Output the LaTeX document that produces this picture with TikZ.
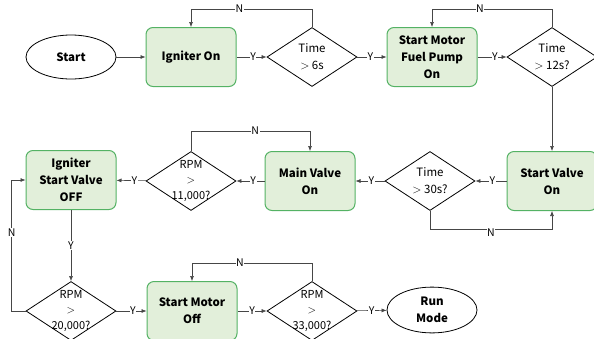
\documentclass[tikz,border=0pt]{standalone}
\usepackage{fontspec}
\setmainfont{Noto Sans CJK KR}
\usetikzlibrary{shapes.geometric,arrows.meta}
\definecolor{boxfill}{RGB}{226,239,218}
\definecolor{boxline}{RGB}{84,178,100}
\definecolor{wire}{RGB}{70,70,70}

\begin{document}
\begin{tikzpicture}[x=1pt,y=-1pt,
    every node/.style={font=\fontsize{11.5}{17}\selectfont},
    stepbox/.style={draw=boxline,fill=boxfill,line width=1pt,rounded corners=7pt,
      minimum width=90pt,minimum height=59pt,align=center,font=\fontsize{11.5}{17}\selectfont\bfseries},
    term/.style={draw,ellipse,line width=0.8pt,minimum width=90pt,minimum height=44pt,
      align=center,font=\fontsize{11.5}{17}\selectfont\bfseries},
    test/.style={draw,diamond,line width=0.8pt,minimum width=90pt,minimum height=59pt,
      aspect=1.5,inner sep=0pt,align=center},
    rpm/.style={test,inner sep=-6pt,font=\fontsize{11}{15.5}\selectfont},
    arr/.style={draw=wire,-{Latex[length=5pt,width=4pt]},line width=0.6pt},
    yn/.style={fill=white,inner sep=0.5pt,font=\fontsize{10.5}{12}\selectfont}]
  \useasboundingbox (0,0) rectangle (594,338);

  % row 1
  \node[term] (start) at (71,57) {Start};
  \node[stepbox] (ign) at (191,57) {Igniter On};
  \node[test] (t6) at (312,57) {Time\\ $>$ 6s};
  \node[stepbox] (fuel) at (432,57) {Start Motor\\Fuel Pump\\On};
  \node[test] (t12) at (552,57) {Time\\ $>$ 12s?};

  % row 2
  \node[stepbox] (sv) at (552,181) {Start Valve\\On};
  \node[test] (t30) at (430,181) {Time\\ $>$ 30s?};
  \node[stepbox] (mv) at (310,181) {Main Valve\\On};
  \node[rpm] (r11) at (191,181) {RPM\\$>$\\11,000?};
  \node[stepbox] (isv) at (71,180) {Igniter\\Start Valve\\OFF};

  % row 3
  \node[rpm] (r20) at (71,311) {RPM\\$>$\\20,000?};
  \node[stepbox] (smo) at (192,311) {Start Motor\\Off};
  \node[rpm] (r33) at (312,311) {RPM\\$>$\\33,000?};
  \node[term] (run) at (432,310) {Run\\Mode};

  % yes paths
  \draw[arr] (start) -- (ign);
  \draw[arr] (ign) -- node[yn,pos=0.55] {Y} (t6);
  \draw[arr] (t6) -- node[yn,pos=0.45] {Y} (fuel);
  \draw[arr] (fuel) -- node[yn,pos=0.6] {Y} (t12);
  \draw[arr] (t12) -- (sv);
  \draw[arr] (sv) -- node[yn,pos=0.45] {Y} (t30);
  \draw[arr] (t30) -- node[yn,pos=0.45] {Y} (mv);
  \draw[arr] (mv) -- node[yn,pos=0.4] {Y} (r11);
  \draw[arr] (r11) -- node[yn,pos=0.4] {Y} (isv);
  \draw[arr] (isv) -- node[yn,pos=0.5] {Y} (r20);
  \draw[arr] (r20) -- node[yn,pos=0.55] {Y} (smo);
  \draw[arr] (smo) -- node[yn,pos=0.5] {Y} (r33);
  \draw[arr] (r33) -- node[yn,pos=0.5] {Y} (run);

  % no paths
  \draw[arr] (t6.north) -- ++(0,-18) -| node[yn,pos=0.3] {N} (ign.north);
  \draw[arr] (t12.north) -- ++(0,-18) -| node[yn,pos=0.3] {N} (fuel.north);
  \draw[arr] (t30.south) -- ++(0,18) -| node[yn,pos=0.25,yshift=-4pt] {N} (sv.south);
  \draw[arr] (r11.north) -- ++(0,-20) -| node[yn,pos=0.27] {N} (mv.north);
  \draw[arr] (r20.west) -- ++(-14,0) |- node[yn,pos=0.3] {N} (isv.west);
  \draw[arr] (r33.north) -- ++(0,-18) -| node[yn,pos=0.3] {N} (smo.north);
\end{tikzpicture}
\end{document}
